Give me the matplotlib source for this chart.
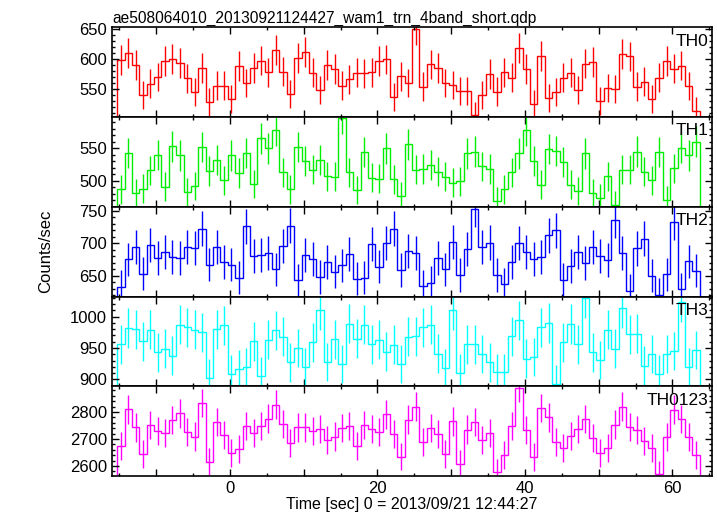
import numpy as np
import matplotlib
matplotlib.use("Agg")
import matplotlib.pyplot as plt
from matplotlib.ticker import MultipleLocator, FuncFormatter

plt.rcParams['font.family'] = ['Liberation Sans', 'DejaVu Sans']

# time bins: 1 s wide, first bin starts at t0
t0 = -15.3
binw = 1.0

th0 = [598, 609, 590, 541, 559, 570, 596, 600, 593, 568, 545, 585, 529, 556, 556, 534,
       588, 560, 585, 597, 578, 614, 579, 542, 601, 612, 577, 549, 590, 583, 556, 566,
       577, 576, 578, 596, 599, 537, 571, 560, 649, 554, 591, 585, 560, 557, 547, 547,
       507, 540, 575, 546, 578, 569, 618, 583, 525, 605, 535, 545, 569, 577, 549, 592,
       595, 531, 552, 550, 608, 604, 554, 562, 534, 569, 596, 584, 589, 555, 514]

th1 = [487, 543, 481, 488, 516, 540, 491, 553, 539, 482, 492, 552, 515, 532, 501, 539,
       512, 543, 495, 565, 550, 578, 513, 487, 552, 530, 517, 532, 507, 506, 596, 513,
       486, 544, 505, 503, 550, 502, 476, 556, 517, 518, 524, 514, 506, 497, 499, 542,
       545, 522, 518, 469, 487, 513, 542, 578, 531, 494, 549, 546, 529, 494, 484, 542,
       481, 473, 507, 463, 517, 517, 545, 514, 501, 544, 470, 519, 551, 539, 560]

th2 = [633, 675, 694, 653, 697, 677, 686, 679, 677, 694, 693, 722, 667, 694, 671, 667,
       647, 726, 680, 682, 685, 660, 696, 727, 643, 682, 676, 648, 671, 656, 666, 683,
       645, 647, 699, 664, 700, 722, 659, 688, 685, 634, 639, 677, 660, 702, 651, 691,
       753, 694, 701, 651, 637, 671, 700, 686, 676, 679, 712, 720, 644, 665, 687, 670,
       694, 680, 674, 735, 685, 627, 692, 707, 650, 621, 652, 732, 629, 672, 658]

th3 = [956, 982, 980, 961, 979, 943, 949, 938, 987, 983, 979, 975, 902, 980, 986, 908,
       916, 920, 961, 906, 963, 978, 968, 927, 950, 919, 959, 1010, 928, 964, 925, 989,
       965, 987, 956, 963, 944, 955, 924, 968, 969, 983, 987, 941, 918, 1010, 910, 956,
       956, 940, 927, 911, 911, 969, 994, 933, 936, 983, 990, 893, 959, 988, 956, 1030,
       943, 931, 979, 949, 1013, 972, 973, 922, 940, 909, 940, 945, 1024, 919, 947]

th0123 = [2673, 2810, 2743, 2644, 2752, 2730, 2722, 2770, 2795, 2727, 2709, 2833, 2614,
          2763, 2714, 2647, 2663, 2749, 2722, 2749, 2775, 2827, 2756, 2685, 2743, 2743,
          2730, 2737, 2696, 2709, 2741, 2749, 2674, 2752, 2737, 2725, 2791, 2717, 2635,
          2772, 2819, 2689, 2740, 2718, 2643, 2765, 2607, 2735, 2763, 2696, 2722, 2576,
          2640, 2748, 2889, 2733, 2633, 2815, 2780, 2689, 2667, 2711, 2736, 2773, 2704,
          2649, 2668, 2753, 2820, 2744, 2733, 2693, 2667, 2569, 2706, 2809, 2773, 2706,
          2640]

names = ["TH0", "TH1", "TH2", "TH3", "TH0123"]
series = [th0, th1, th2, th3, th0123]
colors = ["#ff0000", "#00ee00", "#0000ff", "#00ffff", "#ff00ff"]
ylims = [(504, 652), (460, 598), (618, 756), (889, 1032), (2563, 2895)]
ymajor = [50, 50, 50, 50, 100]
yminor = [10, 10, 10, 10, 20]

fig = plt.figure(figsize=(7.17, 5.16), dpi=100)
left, right = 112 / 717, 711.5 / 717
top, bottom = 1 - 27.3 / 516, 1 - 476 / 516
h = (top - bottom) / 5

for i in range(5):
    vals = np.array(series[i], dtype=float)
    n = len(vals)
    edges = t0 + binw * np.arange(n + 1)
    centers = edges[:-1] + binw / 2
    err = np.sqrt(vals)

    ax = fig.add_axes([left, top - (i + 1) * h, right - left, h])
    ax.stairs(vals, edges, color=colors[i], lw=1.0)
    ax.errorbar(centers, vals, yerr=err, fmt='none', ecolor=colors[i],
                elinewidth=1.0, capsize=0)
    ax.set_xlim(-16, 65.3)
    ax.set_ylim(*ylims[i])
    ax.yaxis.set_major_locator(MultipleLocator(ymajor[i]))
    ax.yaxis.set_minor_locator(MultipleLocator(yminor[i]))
    ax.xaxis.set_major_locator(MultipleLocator(10))
    ax.xaxis.set_minor_locator(MultipleLocator(5))
    ax.tick_params(which='both', direction='in', top=True, right=True,
                   labelsize=12, width=1)
    ax.tick_params(which='major', length=5)
    ax.tick_params(which='minor', length=2.5)
    for s in ax.spines.values():
        s.set_linewidth(1.2)
    if i < 4:
        ax.tick_params(labelbottom=False)
    else:
        ax.xaxis.set_major_formatter(
            FuncFormatter(lambda v, p: "%d" % v if round(v) % 20 == 0 else ""))
        ax.set_xlabel("Time [sec] 0 = 2013/09/21 12:44:27", fontsize=11.5, labelpad=1)
    ax.text(0.995, 0.93, names[i], transform=ax.transAxes, ha='right', va='top',
            fontsize=12.5)
    if i == 0:
        ax.set_title("ae508064010_20130921124427_wam1_trn_4band_short.qdp",
                     loc='left', fontsize=11.2, pad=3)

fig.text(0.063, (top + bottom) / 2, "Counts/sec", rotation=90, ha='center',
         va='center', fontsize=12)

fig.savefig("out.png", dpi=100)
